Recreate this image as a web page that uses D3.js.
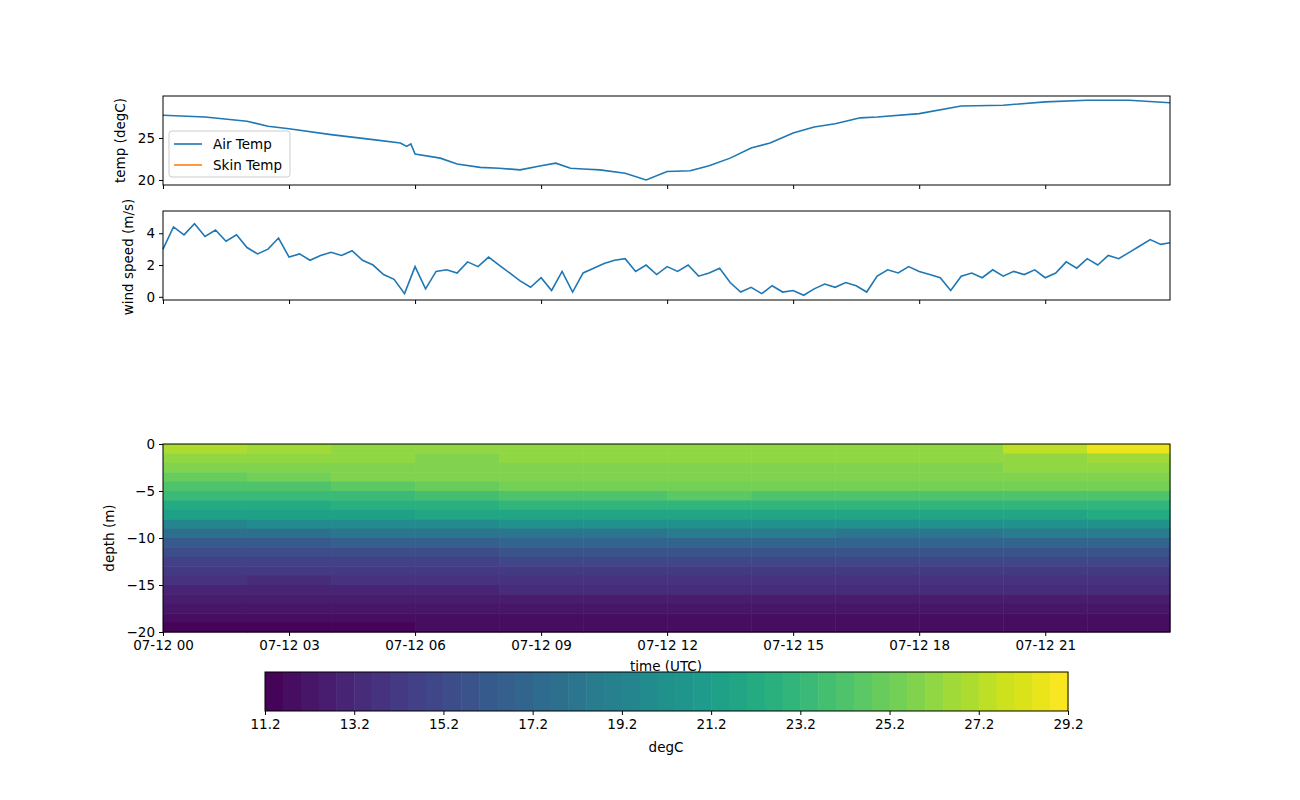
<!DOCTYPE html>
<html><head><meta charset="utf-8">
<script src="https://cdn.jsdelivr.net/npm/d3@7"></script>
<style>body{margin:0;background:#fff}text{font-family:"DejaVu Sans",sans-serif}</style>
</head><body><svg id="c" width="1300" height="800"></svg>
<script>
// air temp, hours since 07-12 00
var airHours = [0,1,2,2.5,3,4,5,5.65,5.8,5.9,6,6.6,7,7.55,8,8.5,9,9.35,9.7,10,10.4,11,11.5,12,12.55,13,13.5,14,14.45,15,15.5,16,16.6,17,18,19,20,21,22,23,23.97];
var airTemp  = [27.7,27.5,27.0,26.4,26.1,25.4,24.8,24.4,24.0,24.3,23.1,22.6,21.9,21.5,21.4,21.2,21.7,22.0,21.4,21.3,21.2,20.8,20.0,21.0,21.1,21.7,22.6,23.8,24.4,25.6,26.3,26.7,27.4,27.5,27.9,28.8,28.9,29.3,29.5,29.5,29.2];

// wind speed every 15 min
var windSpeed = [3.0,4.4,3.9,4.6,3.8,4.2,3.5,3.9,3.1,2.7,3.0,3.7,2.5,2.7,2.3,2.6,2.8,2.6,2.9,2.3,
 2.0,1.4,1.1,0.2,1.9,0.5,1.6,1.7,1.5,2.2,1.9,2.5,2.0,1.5,1.0,0.6,1.2,0.4,1.6,0.3,
 1.5,1.8,2.1,2.3,2.4,1.6,2.0,1.4,1.9,1.6,2.0,1.3,1.5,1.8,0.9,0.3,0.6,0.2,0.7,0.3,
 0.4,0.1,0.5,0.8,0.6,0.9,0.7,0.3,1.3,1.7,1.5,1.9,1.6,1.4,1.2,0.4,1.3,1.5,1.2,1.7,
 1.3,1.6,1.4,1.7,1.2,1.5,2.2,1.8,2.4,2.0,2.6,2.4,2.8,3.2,3.6,3.3,3.4];

// water temperature: rows = 1 m depth bins from surface, columns = 2 h bins
var depthTop = [0,-1,-2,-3,-4,-5,-6,-7,-8,-9,-10,-11,-12,-13,-14,-15,-16,-17,-18,-19];
var timeBins = [0,2,4,6,8,10,12,14,16,18,20,22];
var waterTemp = [
 [26.9,26.5,26.1,26.0,26.1,26.0,26.1,26.0,26.1,26.4,27.2,28.6],
 [26.4,26.2,26.0,25.9,26.0,26.0,26.0,26.0,26.0,26.1,26.2,26.5],
 [25.9,25.9,25.9,25.9,25.9,25.9,25.9,25.9,25.9,25.9,26.0,26.0],
 [25.0,25.3,25.6,25.7,25.8,25.8,25.8,25.8,25.8,25.8,25.8,25.8],
 [24.0,24.2,24.6,25.0,25.2,25.4,25.5,25.4,25.3,25.3,25.4,25.4],
 [23.2,23.4,23.5,23.8,24.0,24.3,24.6,24.3,24.0,24.0,24.2,24.2],
 [22.3,22.4,22.5,22.6,22.8,23.0,23.0,22.9,22.8,22.8,22.9,23.0],
 [21.3,21.4,21.5,21.6,21.7,21.8,21.9,21.8,21.7,21.8,21.9,22.0],
 [19.5,19.6,19.8,19.9,20.0,20.2,20.3,20.2,20.1,20.2,20.3,20.4],
 [17.8,17.8,18.0,18.2,18.3,18.4,18.5,18.5,18.4,18.4,18.5,18.6],
 [16.4,16.3,16.5,16.6,16.8,16.9,17.0,17.0,16.9,16.9,17.0,17.1],
 [15.3,15.2,15.3,15.5,15.6,15.7,15.8,15.8,15.7,15.7,15.8,15.8],
 [14.6,14.5,14.6,14.7,14.8,14.9,15.0,14.9,14.9,14.9,14.9,15.0],
 [14.1,14.0,14.0,14.1,14.2,14.2,14.3,14.3,14.2,14.2,14.3,14.3],
 [13.6,13.5,13.6,13.6,13.7,13.7,13.8,13.8,13.7,13.7,13.8,13.8],
 [13.1,13.0,13.1,13.1,13.2,13.2,13.2,13.2,13.2,13.2,13.2,13.3],
 [12.4,12.4,12.5,12.5,12.5,12.6,12.6,12.6,12.5,12.5,12.6,12.6],
 [12.0,12.0,12.0,12.1,12.1,12.1,12.1,12.1,12.1,12.1,12.1,12.1],
 [11.8,11.8,11.8,11.8,11.9,11.9,11.9,11.9,11.9,11.9,11.9,11.9],
 [11.5,11.5,11.5,11.6,11.6,11.6,11.6,11.6,11.6,11.6,11.6,11.6]];

var timeTicks = [0,3,6,9,12,15,18,21];
var timeLabels = ["07-12 00","07-12 03","07-12 06","07-12 09","07-12 12","07-12 15","07-12 18","07-12 21"];
var cbTicks = [11.2,13.2,15.2,17.2,19.2,21.2,23.2,25.2,27.2,29.2];

var svg = d3.select("#c");
var fs = "13.5px";
var x = d3.scaleLinear().domain([0,23.97]).range([163,1170]);
var blue = "#1f77b4";

function frame(y0,y1){
  svg.append("rect").attr("x",163).attr("y",y0).attr("width",1007).attr("height",y1-y0)
    .attr("fill","none").attr("stroke","#000").attr("stroke-width",1);
}
function style(g){ g.selectAll("text").style("font-size",fs).attr("fill","#000"); g.select(".domain").remove(); g.selectAll("line").attr("stroke","#000"); }

// panel 1
var y1 = d3.scaleLinear().domain([19.4,30]).range([185,96]);
svg.append("g").attr("transform","translate(163,0)").call(d3.axisLeft(y1).tickValues([20,25]).tickSize(4).tickPadding(4)).call(style);
svg.append("g").attr("transform","translate(0,185)").call(d3.axisBottom(x).tickValues(timeTicks).tickSize(4).tickFormat("")).call(style);
svg.append("path").datum(airHours.map(function(h,i){return [h,airTemp[i]];}))
  .attr("d",d3.line().x(function(d){return x(d[0]);}).y(function(d){return y1(d[1]);}))
  .attr("fill","none").attr("stroke",blue).attr("stroke-width",1.6);
frame(96,185);
svg.append("text").attr("transform","translate(125,140.5) rotate(-90)").attr("text-anchor","middle").style("font-size",fs).text("temp (degC)");
var lg = svg.append("g");
lg.append("rect").attr("x",169).attr("y",131).attr("width",121).attr("height",46).attr("rx",3).attr("fill","#fff").attr("stroke","#ccc");
[["Air Temp",blue,144],["Skin Temp","#ff7f0e",165]].forEach(function(d){
  lg.append("line").attr("x1",174).attr("x2",202).attr("y1",d[2]).attr("y2",d[2]).attr("stroke",d[1]).attr("stroke-width",1.6);
  lg.append("text").attr("x",213).attr("y",d[2]+5).style("font-size",fs).text(d[0]);
});

// panel 2
var y2 = d3.scaleLinear().domain([-0.2,5.4]).range([300,211]);
svg.append("g").attr("transform","translate(163,0)").call(d3.axisLeft(y2).tickValues([0,2,4]).tickFormat(d3.format("d")).tickSize(4).tickPadding(4)).call(style);
svg.append("g").attr("transform","translate(0,300)").call(d3.axisBottom(x).tickValues(timeTicks).tickSize(4).tickFormat("")).call(style);
svg.append("path").datum(windSpeed)
  .attr("d",d3.line().x(function(d,i){return x(Math.min(i*0.25,23.97));}).y(function(d){return y2(d);}))
  .attr("fill","none").attr("stroke",blue).attr("stroke-width",1.6);
frame(211,300);
svg.append("text").attr("transform","translate(133,257) rotate(-90)").attr("text-anchor","middle").style("font-size",fs).text("wind speed (m/s)");

// heatmap
var lo = 11.2, hi = 29.2, nLev = 45;
function col(v){ var k = Math.max(0,Math.min(nLev-1,Math.floor((v-lo)/((hi-lo)/nLev)))); return d3.interpolateViridis((k+0.5)/nLev); }
var y3 = d3.scaleLinear().domain([-20,0]).range([632,444]);
var hm = svg.append("g");
waterTemp.forEach(function(row,r){
  row.forEach(function(v,c){
    var t0 = timeBins[c], t1 = c+1<timeBins.length ? timeBins[c+1] : 23.97;
    hm.append("rect").attr("x",x(t0)).attr("width",x(t1)-x(t0)+0.5)
      .attr("y",y3(depthTop[r])).attr("height",y3(depthTop[r]-1)-y3(depthTop[r])+0.5)
      .attr("fill",col(v));
  });
});
svg.append("g").attr("transform","translate(163,0)").call(d3.axisLeft(y3).tickValues([0,-5,-10,-15,-20]).tickFormat(function(d){return d===0?"0":"\u2212"+Math.abs(d);}).tickSize(4).tickPadding(4)).call(style);
svg.append("g").attr("transform","translate(0,632)").call(d3.axisBottom(x).tickValues(timeTicks).tickSize(4).tickPadding(4).tickFormat(function(d,i){return timeLabels[i];})).call(style);
frame(444,632);
svg.append("text").attr("transform","translate(114,538) rotate(-90)").attr("text-anchor","middle").style("font-size",fs).text("depth (m)");
svg.append("text").attr("x",666).attr("y",671).attr("text-anchor","middle").style("font-size",fs).text("time (UTC)");

// colorbar
var cx = d3.scaleLinear().domain([lo,hi]).range([265,1068]);
var cb = svg.append("g");
d3.range(nLev).forEach(function(k){
  var a = lo+k*(hi-lo)/nLev, b = lo+(k+1)*(hi-lo)/nLev;
  cb.append("rect").attr("x",cx(a)).attr("width",cx(b)-cx(a)+0.5).attr("y",672).attr("height",39).attr("fill",d3.interpolateViridis((k+0.5)/nLev));
});
svg.append("rect").attr("x",265).attr("y",672).attr("width",803).attr("height",39).attr("fill","none").attr("stroke","#000");
svg.append("g").attr("transform","translate(0,711)").call(d3.axisBottom(cx).tickValues(cbTicks).tickFormat(d3.format(".1f")).tickSize(4).tickPadding(4)).call(style);
svg.append("text").attr("x",666).attr("y",752).attr("text-anchor","middle").style("font-size",fs).text("degC");
</script></body></html>
